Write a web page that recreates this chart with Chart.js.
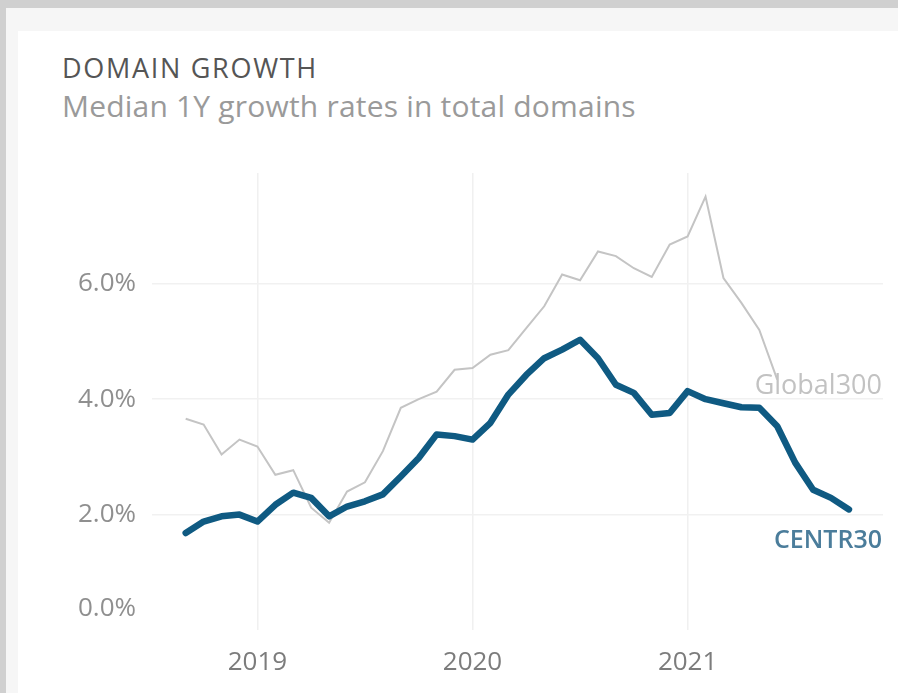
<!DOCTYPE html>
<html>
<head>
<meta charset="utf-8">
<script src="https://cdn.jsdelivr.net/npm/chart.js@4/dist/chart.umd.min.js"></script>
<style>
  html, body { margin: 0; padding: 0; }
  body { width: 898px; height: 693px; background: #d0d0d0; position: relative; overflow: hidden; font-family: "Open Sans", sans-serif; }
  #frame { position: absolute; left: 6px; top: 8px; right: 0; bottom: 0; background: #f6f6f6; }
  #panel { position: absolute; left: 18px; top: 31px; right: 0; bottom: 0; background: #fff; }
  #title { position: absolute; left: 62px; top: 54px; font-size: 27px; line-height: 1; letter-spacing: 1.7px; color: #555; white-space: nowrap; }
  #subtitle { position: absolute; left: 62px; top: 91px; font-size: 30px; line-height: 1; letter-spacing: 0.2px; color: #9a9a9a; white-space: nowrap; }
  #wrap { position: absolute; left: 0; top: 0; width: 898px; height: 693px; }
</style>
</head>
<body>
<div id="frame"></div>
<div id="panel"></div>
<div id="title">DOMAIN GROWTH</div>
<div id="subtitle">Median 1Y growth rates in total domains</div>
<div id="wrap"><canvas id="growthChart" width="898" height="693"></canvas></div>
<script>
// monthly median 1Y growth, in %
var months = [
  '2018-09','2018-10','2018-11','2018-12',
  '2019-01','2019-02','2019-03','2019-04','2019-05','2019-06','2019-07','2019-08','2019-09','2019-10','2019-11','2019-12',
  '2020-01','2020-02','2020-03','2020-04','2020-05','2020-06','2020-07','2020-08','2020-09','2020-10','2020-11','2020-12',
  '2021-01','2021-02','2021-03','2021-04','2021-05','2021-06','2021-07','2021-08','2021-09','2021-10'
];
var centr30 = [
  1.68, 1.88, 1.97, 2.00,
  1.88, 2.17, 2.38, 2.29, 1.97, 2.14, 2.23, 2.35, 2.66, 2.98, 3.39, 3.36,
  3.30, 3.59, 4.08, 4.42, 4.71, 4.86, 5.03, 4.71, 4.25, 4.11, 3.73, 3.76,
  4.14, 4.00, 3.93, 3.86, 3.85, 3.53, 2.90, 2.43, 2.29, 2.09
];
var global300 = [
  3.66, 3.56, 3.04, 3.30,
  3.18, 2.69, 2.77, 2.12, 1.86, 2.40, 2.56, 3.10, 3.85, 4.00, 4.13, 4.51,
  4.54, 4.77, 4.85, 5.23, 5.61, 6.16, 6.06, 6.56, 6.48, 6.27, 6.12, 6.68,
  6.82, 7.51, 6.10, 5.67, 5.20, 4.34, null, null, null, null
];
var yearTicks = [0, 12, 24];
var yearLabels = ['2019', '2020', '2021'];
var yTicks = [0, 2, 4, 6];
var seriesNames = ['CENTR30', 'Global300'];

// month index counted from Jan 2019
function monthIndex(s) {
  var p = s.split('-');
  return (parseInt(p[0]) - 2019) * 12 + parseInt(p[1]) - 1;
}
function toPoints(vals) {
  var pts = [];
  vals.forEach((v, i) => {
    if (v !== null) pts.push({ x: monthIndex(months[i]), y: v });
  });
  return pts;
}

var FONT = '"Open Sans", sans-serif';

// y labels drawn by hand so the bottom one can be lifted inside the pane, like the original
var yLabels = {
  id: 'yLabels',
  afterDraw(chart) {
    var ctx = chart.ctx, y = chart.scales.y, area = chart.chartArea;
    ctx.save();
    ctx.font = '26px ' + FONT;
    ctx.fillStyle = '#8f8f8f';
    ctx.textAlign = 'right';
    ctx.textBaseline = 'middle';
    yTicks.forEach(v => {
      var py = Math.min(y.getPixelForValue(v), area.bottom - 21);
      ctx.fillText(v.toFixed(1) + '%', 136, py);
    });
    ctx.restore();
  }
};

// series names near the line ends
var endLabels = {
  id: 'endLabels',
  afterDatasetsDraw(chart) {
    var ctx = chart.ctx, area = chart.chartArea;
    var styles = [
      { font: '600 25px ' + FONT, color: '#4b7d9b', dy: 31 },
      { font: '27px ' + FONT, color: '#c2c2c2', dy: 7 }
    ];
    ctx.save();
    ctx.textAlign = 'right';
    ctx.textBaseline = 'middle';
    chart.data.datasets.forEach((ds, i) => {
      var meta = chart.getDatasetMeta(i);
      var last = meta.data[meta.data.length - 1];
      ctx.font = styles[i].font;
      ctx.fillStyle = styles[i].color;
      ctx.fillText(seriesNames[i], area.right - 1, last.y + styles[i].dy);
    });
    ctx.restore();
  }
};

new Chart(document.getElementById('growthChart'), {
  type: 'line',
  data: {
    datasets: [
      { label: seriesNames[0], data: toPoints(centr30), borderColor: '#0f5a82', borderWidth: 6.5,
        pointRadius: 0, tension: 0, borderJoinStyle: 'round', borderCapStyle: 'round', order: 0 },
      { label: seriesNames[1], data: toPoints(global300), borderColor: '#c4c4c4', borderWidth: 2,
        pointRadius: 0, tension: 0, order: 1 }
    ]
  },
  options: {
    responsive: false,
    animation: false,
    layout: { padding: { left: 0, right: 15, top: 173, bottom: 0 } },
    plugins: { legend: { display: false }, tooltip: { enabled: false } },
    scales: {
      x: {
        type: 'linear', min: -5.88, max: 34.9,
        afterBuildTicks: (s) => { s.ticks = yearTicks.map(v => ({ value: v })); },
        afterFit: (s) => { s.height = 63; },
        ticks: { font: { family: FONT, size: 26 }, color: '#7c7c7c', padding: 17, maxRotation: 0,
                 callback: (v) => yearLabels[yearTicks.indexOf(v)] },
        grid: { color: '#f0f0f0', lineWidth: 1.5, drawTicks: false },
        border: { display: false }
      },
      y: {
        min: 0, max: 7.92,
        afterBuildTicks: (s) => { s.ticks = yTicks.map(v => ({ value: v })); },
        afterFit: (s) => { s.width = 152; },
        ticks: { display: false },
        grid: { color: (c) => c.tick && c.tick.value === 0 ? 'rgba(0,0,0,0)' : '#f1f1f1', lineWidth: 1.5, drawTicks: false },
        border: { display: false }
      }
    }
  },
  plugins: [yLabels, endLabels]
});
</script>
</body>
</html>
